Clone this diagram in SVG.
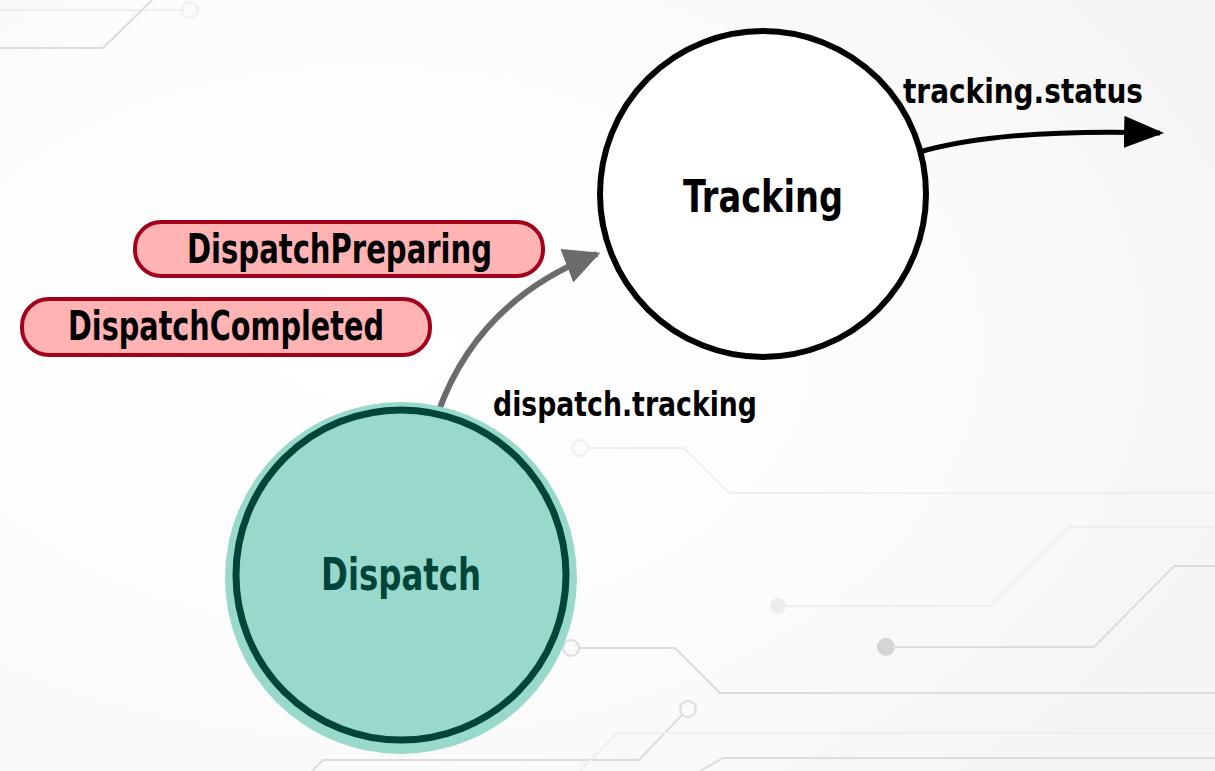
<svg xmlns="http://www.w3.org/2000/svg" width="1215" height="771" viewBox="0 0 1215 771">
<defs>
<radialGradient id="bg" cx="0.3" cy="0.45" r="0.8">
<stop offset="0" stop-color="#ffffff"/>
<stop offset="0.55" stop-color="#fcfcfc"/>
<stop offset="1" stop-color="#f4f4f4"/>
</radialGradient>
<marker id="ahGray" viewBox="0 0 10 10" refX="9" refY="5" markerWidth="6" markerHeight="6" markerUnits="strokeWidth" orient="auto">
<path d="M0,0 L10,5 L0,10 z" fill="#6b6b6b"/>
</marker>
<marker id="ahBlack" viewBox="0 0 10 10" refX="9" refY="5" markerWidth="8" markerHeight="6.4" markerUnits="strokeWidth" orient="auto" preserveAspectRatio="none">
<path d="M0,0 L10,5 L0,10 z" fill="#000"/>
</marker>
</defs>
<style>
.trace{fill:none;stroke:#dcdcdc;stroke-width:2}
.trace2{fill:none;stroke:#efefef;stroke-width:2}
.pad{fill:#fafafa;stroke:#dcdcdc;stroke-width:2}
.pad2{fill:#fafafa;stroke:#efefef;stroke-width:2}
.lbl{font-family:"DejaVu Sans Condensed","DejaVu Sans",sans-serif;font-weight:bold}
.pill rect{fill:#ffb3b3;stroke:#a3001c;stroke-width:4}
</style>
<rect width="1215" height="771" fill="url(#bg)"/>
<g id="background">
<path class="trace2" d="M0,10 H182"/>
<circle class="pad2" cx="190" cy="10" r="8"/>
<path class="trace" d="M0,48 H103 L152,0"/>
<path class="trace2" d="M588,448 H684 L729,493 H1215"/>
<circle class="pad2" cx="580" cy="448" r="8"/>
<circle cx="778" cy="606" r="8" fill="#ececec"/>
<path class="trace2" d="M778,606 H990 L1069,527 H1215"/>
<circle cx="886" cy="647" r="9" fill="#d4d4d4"/>
<path class="trace" d="M886,647 H1094 L1174,566 H1215"/>
<path class="trace" d="M579,648 H675 L720,693 H1215"/>
<circle class="pad" cx="571" cy="648" r="8"/>
<path class="trace" d="M682,715 L639,760 H323 L312,771"/>
<circle class="pad" cx="688" cy="709" r="8"/>
<path class="trace2" d="M580,771 L617,733 H1215"/>
<path class="trace" d="M700,771 L723,758 H1215"/>
</g>
<g id="connectors">
<path d="M438,413 Q478,300 597,254" fill="none" stroke="#6b6b6b" stroke-width="6" marker-end="url(#ahGray)"/>
<path d="M916,153 Q1000,128 1160,133" fill="none" stroke="#000" stroke-width="5" marker-end="url(#ahBlack)"/>
<text class="lbl" x="493" y="416" font-size="34" textLength="264" lengthAdjust="spacingAndGlyphs">dispatch.tracking</text>
<text class="lbl" x="903" y="103" font-size="34" textLength="240" lengthAdjust="spacingAndGlyphs">tracking.status</text>
</g>
<g id="node-tracking">
<circle cx="763" cy="194" r="163" fill="#fff" stroke="#000" stroke-width="6"/>
<text class="lbl" x="683" y="212" font-size="44" textLength="160" lengthAdjust="spacingAndGlyphs">Tracking</text>
</g>
<g id="node-dispatch">
<circle cx="401" cy="578" r="176" fill="#99d9cc"/>
<circle cx="401" cy="575" r="165" fill="#99d9cc" stroke="#00453a" stroke-width="7"/>
<text class="lbl" x="321" y="590" font-size="44" fill="#00453a" textLength="160" lengthAdjust="spacingAndGlyphs">Dispatch</text>
</g>
<g id="event-dispatch-preparing" class="pill">
<rect x="135" y="222" width="408" height="54" rx="26"/>
<text class="lbl" x="187" y="263" font-size="40" textLength="305" lengthAdjust="spacingAndGlyphs">DispatchPreparing</text>
</g>
<g id="event-dispatch-completed" class="pill">
<rect x="22" y="299" width="408" height="56" rx="27"/>
<text class="lbl" x="68" y="340" font-size="40" textLength="316" lengthAdjust="spacingAndGlyphs">DispatchCompleted</text>
</g>
</svg>
